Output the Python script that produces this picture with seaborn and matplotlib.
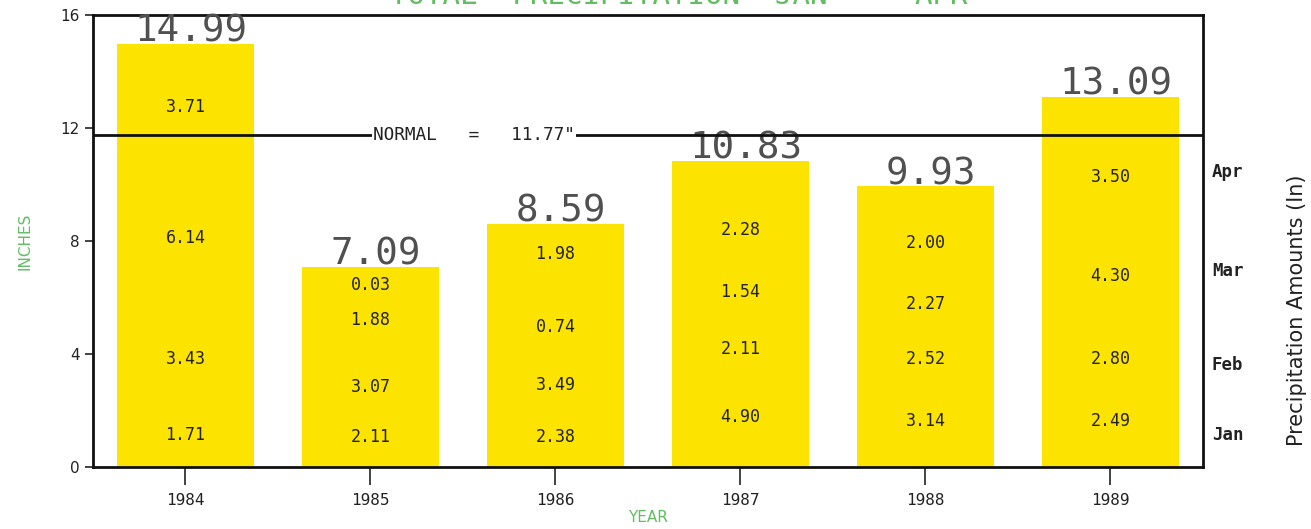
import pandas as pd
import numpy as np
import matplotlib
matplotlib.use("Agg")
import matplotlib.pyplot as plt
import seaborn as sns

years = ["1984", "1985", "1986", "1987", "1988", "1989"]
months = ["Jan", "Feb", "Mar", "Apr"]
jan = [1.71, 2.11, 2.38, 4.90, 3.14, 2.49]
feb = [3.43, 3.07, 3.49, 2.11, 2.52, 2.80]
mar = [6.14, 1.88, 0.74, 1.54, 2.27, 4.30]
apr = [3.71, 0.03, 1.98, 2.28, 2.00, 3.50]
normal = 11.77

# where the monthly labels sit in each bar (inches), as in the original plot
label_y = {
    "Jan": [1.13, 1.06, 1.06, 1.77, 1.64, 1.64],
    "Feb": [3.82, 2.83, 2.90, 4.18, 3.82, 3.82],
    "Mar": [8.11, 5.20, 4.96, 6.19, 5.77, 6.76],
    "Apr": [12.74, 6.44, 7.54, 8.39, 7.93, 10.27],
}
month_label_pos = [1.13, 3.6, 6.94, 10.44]

sns.set_style("white")
plt.rcParams['font.family'] = ['DejaVu Sans']

df = pd.DataFrame({"year": years, "Jan": jan, "Feb": feb, "Mar": mar, "Apr": apr})
cum = df[months].cumsum(axis=1)
totals = cum["Apr"]

yellow = "#fde400"
green = "#62bd62"
ink = "#222222"

fig = plt.figure(figsize=(13.11, 5.29), dpi=100)
ax = fig.add_axes([0.0709, 0.1172, 0.8467, 0.8544])

# stacked bars, drawn from the top level down
for m in reversed(months):
    sns.barplot(x=df["year"], y=cum[m], color=yellow, width=0.74,
                saturation=1, ax=ax, edgecolor="none")

for i in range(len(years)):
    for m in months:
        ax.text(i, label_y[m][i], f"{df.loc[i, m]:.2f}", ha="center",
                va="center", fontsize=12, family="DejaVu Sans Mono",
                color=ink)
    ax.text(i + 0.03, totals[i] - 0.2, f"{totals[i]:.2f}", ha="center",
            va="bottom", fontsize=27, color="#505050",
            family="DejaVu Sans Mono")

ax.axhline(normal, color="#111111", lw=2, zorder=3)
ax.text(1.56, normal, 'NORMAL   =   11.77"', ha="center", va="center",
        fontsize=12.8, color=ink, zorder=4, family="DejaVu Sans Mono",
        bbox=dict(facecolor="white", edgecolor="none", pad=1))

ax.set_xlim(-0.5, 5.5)
ax.set_ylim(0, 16)
ax.set_yticks([0, 4, 8, 12, 16])
ax.tick_params(axis="y", direction="out", length=6, width=1.2, labelsize=11,
               colors=ink, left=True)
ax.tick_params(axis="x", direction="out", length=13, width=1.2, labelsize=11.5,
               colors=ink, bottom=True, pad=6)
for lab in ax.get_xticklabels():
    lab.set_family("DejaVu Sans Mono")
for s in ax.spines.values():
    s.set_color("#111111")
    s.set_linewidth(2)

ax.set_xlabel("YEAR", color=green, fontsize=11, labelpad=1)
ax.set_ylabel("INCHES", color=green, fontsize=11, labelpad=20)

for m, p in zip(months, month_label_pos):
    ax.text(1.008, p / 16, m, transform=ax.transAxes, ha="left", va="center",
            fontsize=12.5, fontweight="bold", family="DejaVu Sans Mono",
            color=ink)
fig.text(0.989, 0.414, "Precipitation Amounts (In)", rotation=90, ha="center",
         va="center", fontsize=15, color=ink, family="DejaVu Sans")

fig.text(0.518, 0.992, "TOTAL  PRECIPITATION  JAN  -  APR", ha="center",
         va="baseline", fontsize=21, color=green, family="DejaVu Sans Mono")

fig.savefig("out.png", dpi=100)
